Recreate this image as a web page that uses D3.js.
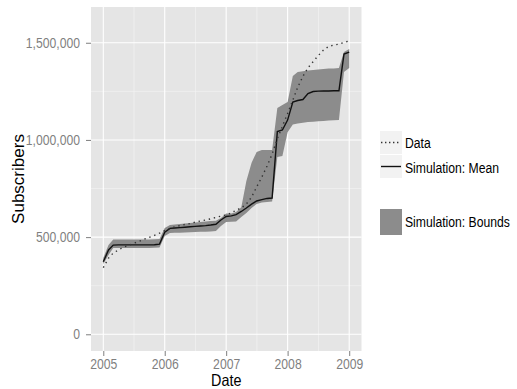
<!DOCTYPE html>
<html>
<head>
<meta charset="utf-8">
<script src="https://cdn.jsdelivr.net/npm/d3@7"></script>
<style>
  body { margin: 0; background: #fff; }
  svg { display: block; font-family: "Liberation Sans", Arial, sans-serif; }
</style>
</head>
<body>
<svg width="517" height="389"></svg>
<script>
// monthly observations, Jan 2005 .. Jan 2009
var startMonth = new Date(Date.UTC(2005, 0, 1));

var dataSeries = [343000, 392000, 418000, 434000, 448000, 458000, 468000, 478000, 489000, 499000, 509000, 520000,
  533000, 544000, 553000, 559000, 565000, 570000, 577000, 583000, 588000, 594000, 601000, 608000,
  614000, 624000, 639000, 650000, 670000, 706000, 758000, 809000, 866000, 927000, 1006000, 1070000,
  1136000, 1205000, 1271000, 1327000, 1371000, 1403000, 1434000, 1462000, 1481000, 1488000, 1493000, 1502000,
  1509000];

var meanSeries = [373000, 434000, 459000, 460000, 460000, 460000, 460000, 460000, 460000, 460000, 461000, 464000,
  525000, 545000, 547000, 549000, 551000, 553000, 555000, 557000, 559000, 562000, 566000, 588000,
  606000, 609000, 616000, 632000, 650000, 670000, 686000, 693000, 699000, 701000, 1043000, 1051000,
  1102000, 1195000, 1203000, 1208000, 1239000, 1249000, 1251000, 1252000, 1252000, 1253000, 1253000, 1442000,
  1452000];

var upperSeries = [393000, 459000, 488000, 488000, 488000, 488000, 488000, 488000, 488000, 488000, 489000, 490000,
  547000, 562000, 565000, 567000, 570000, 573000, 575000, 578000, 580000, 583000, 584000, 598000,
  621000, 622000, 629000, 654000, 789000, 882000, 938000, 948000, 948000, 948000, 1164000, 1180000,
  1195000, 1329000, 1349000, 1354000, 1357000, 1360000, 1362000, 1365000, 1367000, 1368000, 1370000, 1452000,
  1468000];

var lowerSeries = [362000, 408000, 444000, 444000, 444000, 444000, 444000, 444000, 444000, 444000, 445000, 447000,
  506000, 521000, 522000, 523000, 524000, 525000, 526000, 527000, 528000, 529000, 531000, 557000,
  578000, 579000, 580000, 603000, 624000, 650000, 670000, 678000, 681000, 683000, 912000, 917000,
  1040000, 1079000, 1084000, 1089000, 1092000, 1094000, 1096000, 1097000, 1100000, 1101000, 1102000, 1350000,
  1370000];

var yearTicks = [2005, 2006, 2007, 2008, 2009];
var yTicks = [0, 500000, 1000000, 1500000];
var yMinor = [250000, 750000, 1250000];
var legendLines = ["Data", "Simulation: Mean"];
var legendFill = "Simulation: Bounds";

var svg = d3.select("svg"),
    panelL = 91, panelR = 361.5, panelT = 7, panelB = 351,
    squeeze = 0.87;

var months = dataSeries.map(function(d, i) { return d3.utcMonth.offset(startMonth, i); });

var t0 = months[0].getTime(), t1 = months[months.length - 1].getTime(),
    pad = (t1 - t0) * 0.05;

var x = d3.scaleUtc()
    .domain([new Date(t0 - pad), new Date(t1 + pad)])
    .range([panelL, panelR]);

var y = d3.scaleLinear()
    .domain([-86000, 1684000])
    .range([panelB, panelT]);

var yearDates = yearTicks.map(function(yr) { return new Date(Date.UTC(yr, 0, 1)); });
var halfYears = yearDates.slice(1).map(function(d, i) {
  return new Date((d.getTime() + yearDates[i].getTime()) / 2);
});

// panel
svg.append("rect")
    .attr("x", panelL).attr("y", panelT)
    .attr("width", panelR - panelL).attr("height", panelB - panelT)
    .attr("fill", "#e5e5e5");

var grid = svg.append("g");
grid.selectAll(".ymin").data(yMinor).enter().append("line")
    .attr("x1", panelL).attr("x2", panelR)
    .attr("y1", function(d) { return y(d); }).attr("y2", function(d) { return y(d); })
    .attr("stroke", "#f5f5f5").attr("stroke-width", 0.6);
grid.selectAll(".xmin").data(halfYears).enter().append("line")
    .attr("y1", panelT).attr("y2", panelB)
    .attr("x1", function(d) { return x(d); }).attr("x2", function(d) { return x(d); })
    .attr("stroke", "#f5f5f5").attr("stroke-width", 0.6);
grid.selectAll(".ymaj").data(yTicks).enter().append("line")
    .attr("x1", panelL).attr("x2", panelR)
    .attr("y1", function(d) { return y(d); }).attr("y2", function(d) { return y(d); })
    .attr("stroke", "#fff").attr("stroke-width", 1.1);
grid.selectAll(".xmaj").data(yearDates).enter().append("line")
    .attr("y1", panelT).attr("y2", panelB)
    .attr("x1", function(d) { return x(d); }).attr("x2", function(d) { return x(d); })
    .attr("stroke", "#fff").attr("stroke-width", 1.1);

// bounds ribbon
var area = d3.area()
    .x(function(d, i) { return x(months[i]); })
    .y0(function(d, i) { return y(lowerSeries[i]); })
    .y1(function(d) { return y(d); });

svg.append("path")
    .datum(upperSeries)
    .attr("d", area)
    .attr("fill", "#8c8c8c");

var line = d3.line()
    .x(function(d, i) { return x(months[i]); })
    .y(function(d) { return y(d); });

svg.append("path")
    .datum(meanSeries)
    .attr("d", line)
    .attr("fill", "none")
    .attr("stroke", "#111")
    .attr("stroke-width", 1.4);

svg.append("path")
    .datum(dataSeries)
    .attr("d", line)
    .attr("fill", "none")
    .attr("stroke", "#333")
    .attr("stroke-width", 1.4)
    .attr("stroke-dasharray", "1.4,3.8");

// axes
var yAxis = svg.append("g")
    .attr("transform", "translate(" + panelL + ",0)")
    .call(d3.axisLeft(y).tickValues(yTicks).tickFormat(d3.format(",")).tickSize(5).tickPadding(6));

var xAxis = svg.append("g")
    .attr("transform", "translate(0," + panelB + ")")
    .call(d3.axisBottom(x).tickValues(yearDates).tickFormat(d3.utcFormat("%Y")).tickSize(5).tickPadding(3.5));

[yAxis, xAxis].forEach(function(ax) {
  ax.select(".domain").remove();
  ax.selectAll(".tick line").attr("stroke", "#7f7f7f");
  ax.selectAll(".tick text")
      .attr("fill", "#7f7f7f")
      .style("font-size", "14px")
      .style("font-family", "'Liberation Sans', Arial, sans-serif")
      .each(function() {
        // the source picture is narrower than it is tall, so squeeze horizontal text a bit
        d3.select(this)
            .attr("textLength", this.getComputedTextLength() * squeeze)
            .attr("lengthAdjust", "spacingAndGlyphs");
      });
});

function squeezedText(px, py, anchor, size, str) {
  return svg.append("text")
      .attr("transform", "translate(" + px + "," + py + ") scale(" + squeeze + ",1)")
      .attr("text-anchor", anchor)
      .style("font-size", size)
      .text(str);
}

squeezedText((panelL + panelR) / 2, 386, "middle", "16.5px", "Date");

svg.append("text")
    .attr("transform", "translate(24," + ((panelT + panelB) / 2) + ") rotate(-90)")
    .attr("text-anchor", "middle")
    .style("font-size", "17px")
    .text("Subscribers");

// legend
var lg = svg.append("g").attr("transform", "translate(380,131)");

lg.selectAll(".keybg").data(legendLines).enter().append("rect")
    .attr("x", 0).attr("y", function(d, i) { return i * 24; })
    .attr("width", 22).attr("height", 23)
    .attr("fill", "#f2f2f2");

lg.append("line")
    .attr("x1", 1).attr("x2", 21).attr("y1", 11.5).attr("y2", 11.5)
    .attr("stroke", "#333").attr("stroke-width", 1.4)
    .attr("stroke-dasharray", "1.4,2.6");

lg.append("line")
    .attr("x1", 1).attr("x2", 21).attr("y1", 35.5).attr("y2", 35.5)
    .attr("stroke", "#111").attr("stroke-width", 1.4);

lg.append("rect")
    .attr("x", 0).attr("y", 78)
    .attr("width", 22).attr("height", 26)
    .attr("fill", "#8c8c8c");

legendLines.forEach(function(d, i) {
  squeezedText(405, 147.5 + i * 25.5, "start", "14px", d);
});
squeezedText(405, 226.5, "start", "14px", legendFill);
</script>
</body>
</html>
